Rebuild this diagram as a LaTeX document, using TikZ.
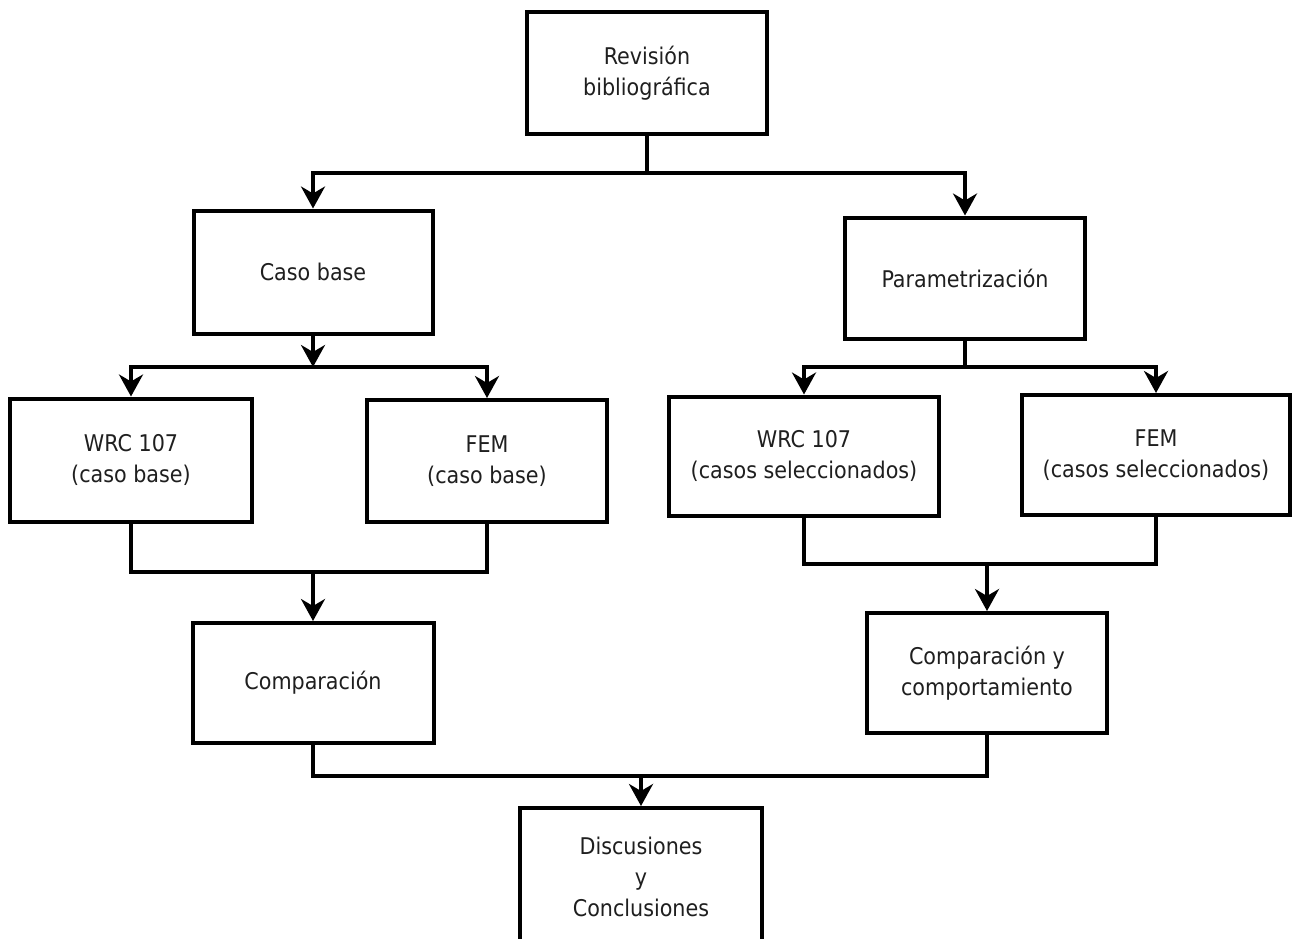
\documentclass[tikz,border=0pt]{standalone}
\usepackage{fontspec}
\setmainfont{DejaVu Sans Condensed}
\usetikzlibrary{arrows.meta}
\tikzset{
  box/.style={draw=black, line width=4pt, rectangle, align=center, inner sep=0pt,
    text=black!88, font=\fontsize{23}{31}\selectfont, fill=white},
  conn/.style={draw=black, line width=3.5pt},
  arr/.style={conn, -{Stealth[length=22pt,width=24pt,inset=7pt]}},
}
\begin{document}
\begin{tikzpicture}[x=1pt,y=-1pt]
\useasboundingbox (0,0) rectangle (1293,939);
\node[box, minimum width=240, minimum height=122] (rev) at (647,73) {Revisión\\bibliográfica};
\node[box, minimum width=239, minimum height=123] (caso) at (313,272) {Caso base};
\node[box, minimum width=240, minimum height=121] (param) at (965,278) {Parametrización};
\node[box, minimum width=242, minimum height=123] (wrcb) at (131,460) {WRC 107\\(caso base)};
\node[box, minimum width=240, minimum height=122] (femb) at (487,461) {FEM\\(caso base)};
\node[box, minimum width=270, minimum height=119] (wrcs) at (804,456) {WRC 107\\(casos seleccionados)};
\node[box, minimum width=268, minimum height=120] (fems) at (1156,455) {FEM\\(casos seleccionados)};
\node[box, minimum width=241, minimum height=120] (comp) at (313,683) {Comparación};
\node[box, minimum width=240, minimum height=120] (compc) at (987,673) {Comparación y\\comportamiento};
\node[box, minimum width=242, minimum height=138] (disc) at (641,877) {Discusiones\\y\\Conclusiones};

\coordinate (j1) at (647,173);
\coordinate (j2) at (313,367);
\coordinate (j3) at (965,367);
\coordinate (j4) at (313,572);
\coordinate (j5) at (987,564);
\coordinate (j6) at (641,776);

\draw[conn] (rev.south) -- (j1);
\draw[arr] (j1) -| (caso.north);
\draw[arr] (j1) -| (param.north);

\draw[arr] (caso.south) -- (j2);
\draw[arr] (j2) -| (wrcb.north);
\draw[arr] (j2) -| (femb.north);

\draw[conn] (param.south) -- (j3);
\draw[arr] (j3) -| (wrcs.north);
\draw[arr] (j3) -| (fems.north);

\draw[conn] (wrcb.south) |- (j4) -| (femb.south);
\draw[arr] (j4) -- (comp.north);

\draw[conn] (wrcs.south) |- (j5) -| (fems.south);
\draw[arr] (j5) -- (compc.north);

\draw[conn] (comp.south) |- (j6) -| (compc.south);
\draw[arr] (j6) -- (disc.north);
\end{tikzpicture}
\end{document}
